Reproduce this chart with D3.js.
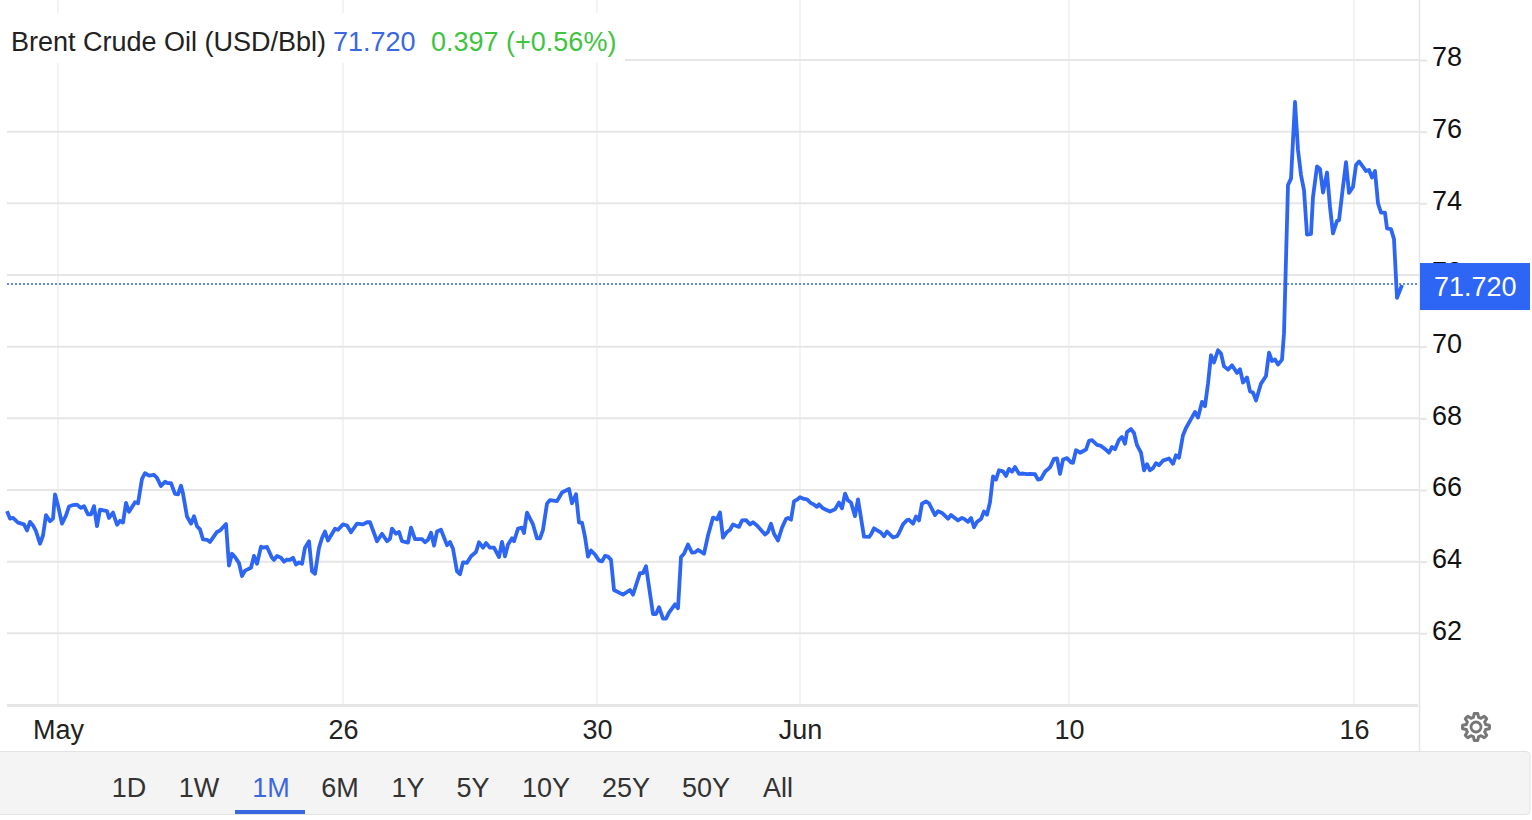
<!DOCTYPE html>
<html>
<head>
<meta charset="utf-8">
<script src="https://cdn.jsdelivr.net/npm/d3@7"></script>
<style>
html, body { margin: 0; padding: 0; background: #fff; overflow: hidden; }
text { font-family: "Liberation Sans", Arial, sans-serif; }
</style>
</head>
<body>
<div id="hook"></div>
<script>
// session hours since the start of the window
var hours = [0,0.75,1.5,2.75,4.25,5,5.75,6.5,7.25,8.25,9,9.75,10.75,11.5,12,12.75,13.75,14.75,15.5,16.5,17.5,18.5,19.25,20.25,21,21.75,22.5,23.25,25,25.5,26.5,27.5,28.25,29,29.75,30.5,32,32.75,33.75,34.5,35.5,36.75,37.5,38.5,39.5,40.25,41,42,42.75,43.5,44,45,46,46.75,47.5,48.25,49,50,50.75,52.5,53.25,54.75,55.5,56.25,57,58,58.75,59.5,61,61.75,62.5,63.5,64,65,66.25,66.75,67.5,68.5,69.25,70,70.75,71.5,72.25,73,73.75,74.5,75.5,76.25,77,78,78.75,79.5,80.25,82,82.75,84,85,
86,87.5,89,90,90.75,92.5,93.75,95,95.75,96.25,97.25,98,98.75,100.25,101,102,103.75,104.5,105.25,106,106.75,107.5,108.5,110,110.75,111.5,112.5,113.25,114,115,116,117.25,118,119,119.75,120.75,121.75,123,123.75,124.5,125.25,126.25,126.75,127.75,128.75,129.25,130,131.5,132.5,133.25,134,135,135.75,137.5,138.75,140.5,141.25,142.25,143,143.75,144.5,145.25,146,147,148,148.75,149.5,150.25,151,151.75,154,155.75,156.5,157.5,158.25,159,159.75,161.5,162.25,163,164,164.75,165.5,167,167.75,168.5,169.25,170.25,
171.25,172,172.75,174.25,175.25,176.5,177.5,178.25,179,180,180.75,181.5,183,183.75,184.75,185.75,186.5,187.5,189.5,190.25,191,191.75,192.75,193.75,194.75,195.25,196,196.75,197.5,198.25,199.25,200,201,201.5,202.5,203,204,204.75,205.75,207,208,208.75,209.5,210.25,211,212,212.75,214.25,215.5,216,216.75,218.5,219.25,220,221.5,222.5,223,224,225,225.5,226.5,227.25,228,228.75,229.75,230.5,232,232.75,233.75,235.25,236,237.75,238.75,239.25,240.25,241,241.75,242.5,243.5,244.25,245,245.75,246.5,247.25,248,249,249.75,250.5,251.25,252,253,254,255,255.75,
257,257.75,258.5,259.5,260.75,261.75,262.5,263.25,264,265,266,266.5,267.25,268.25,269.75,270.5,271.25,272.5,273.5,274.75,275.5,276.25,277,278,278.75,279.5,280,281,281.75,282.5,283.5,284.25,285,285.75,286.5,287.25,288,289,290.5,291.5,292.25,293,294,294.75,295.75,297,297.75,298.75,299.5,300.25,301,301.75,302.75,303.5,304.25,305.25,306.25,307.5,308.25,309,310,310.75,311.5,312.25,313.5,314.75,315.5,316.25,317,317.75,318.75,319.25,
320.25,321,322,322.75,323.5,324.25,325,326,326.5,327.5,328.25,329,330,330.75,331.5,332.5,333,334,334.75,335.5,336.5,337.25,338,339,339.75,340.5,341.25,342,342.75,343.5,344.5,345,346,346.75,347.5,348.75];

// Brent price, USD/Bbl
var prices = [65.41,65.2,65.22,65.09,65.04,64.87,65.11,65.01,64.85,64.5,64.73,65.3,65.13,65.2,65.88,65.57,65.06,65.29,65.54,65.58,65.59,65.5,65.55,65.32,65.32,65.55,64.99,65.45,65.41,65.22,65.37,65.03,65.14,65.09,65.64,65.39,65.66,65.63,66.31,66.47,66.4,66.42,66.34,66.11,66.23,66.19,66.19,65.89,65.88,66.12,65.9,65.26,65.06,65.27,64.99,64.9,64.62,64.61,64.55,64.83,64.87,65.05,63.89,64.22,64.13,63.96,63.6,63.75,63.83,64.16,63.94,64.42,64.39,64.41,64.11,64.05,64.16,64.11,64,64.06,64.05,64.11,63.92,63.98,63.94,64.39,64.57,63.73,63.66,64.39,64.66,64.84,64.59,64.92,64.89,65.04,65.01,
64.82,65.06,65.04,65.1,65.1,64.57,64.78,64.57,64.64,64.92,64.78,64.83,64.57,64.53,64.95,64.63,64.63,64.54,64.61,64.81,64.45,64.84,64.89,64.46,64.55,64.36,63.73,63.65,63.98,63.97,64.15,64.27,64.54,64.39,64.52,64.39,64.39,64.13,64.55,64.15,64.48,64.65,64.57,64.92,64.95,64.8,65.37,65.04,64.65,64.65,64.89,65.62,65.72,65.69,65.93,66.03,65.63,65.88,65.09,65.09,64.69,64.14,64.31,64.2,64.03,64.01,64.16,64.14,64.05,63.21,63.08,63.21,63.08,63.43,63.68,63.68,63.87,62.54,62.54,62.73,62.41,62.41,62.58,62.81,62.7,64.13,64.22,64.48,
64.25,64.26,64.33,64.22,64.73,65.23,65.18,65.37,64.67,64.83,64.89,65.04,64.97,65.15,65.16,65.04,65.1,65.01,64.76,64.83,65.06,64.78,64.59,64.95,65.19,65.22,65.17,65.68,65.73,65.8,65.75,65.74,65.63,65.61,65.53,65.6,65.49,65.45,65.4,65.46,65.65,65.49,65.9,65.71,65.65,65.27,65.74,64.7,64.69,64.76,64.93,64.81,64.71,64.84,64.68,64.71,64.8,65.04,65.16,65.17,65.06,65.26,65.15,65.62,65.68,65.63,65.3,65.41,65.36,65.2,65.3,65.15,65.22,65.2,65.11,65.22,64.96,65.11,65.19,65.4,65.31,65.66,66.38,66.29,66.55,66.52,66.39,66.59,66.51,66.64,66.45,66.46,66.44,66.45,
66.44,66.29,66.31,66.51,66.63,66.87,66.88,66.45,66.85,66.89,66.77,66.76,67.11,67.04,67.13,67.37,67.39,67.26,67.23,67.12,67.04,67.2,67.14,67.4,67.48,67.29,67.62,67.7,67.59,67.25,67.04,66.55,66.72,66.55,66.61,66.75,66.69,66.82,66.88,66.73,66.97,66.9,67.53,67.73,67.93,68.18,68.02,68.46,68.34,68.97,69.76,69.56,69.9,69.81,69.45,69.36,69.48,69.27,69.37,69,69.14,68.75,68.72,68.5,68.97,69.18,69.83,69.6,69.64,69.5,69.64,70.37,
74.51,74.69,76.83,75.49,74.79,74.37,73.13,73.15,74.18,75.03,74.96,74.3,74.86,73.9,73.16,73.51,73.53,74.46,75.15,74.29,74.46,75.07,75.17,75.02,74.9,74.93,74.72,74.9,74,73.74,73.74,73.3,73.28,73,71.36,71.72];

var yTicks = [62, 64, 66, 68, 70, 72, 74, 76, 78];
var xTickHours = [12.75, 84, 147.5, 198.25, 265.5, 336.75];
var xTickLabels = ["May", "26", "30", "Jun", "10", "16"];
var ranges = ["1D", "1W", "1M", "6M", "1Y", "5Y", "10Y", "25Y", "50Y", "All"];
var activeRange = "1M";
var lastPrice = 71.72;

var w = 1532;
var h = 820;
var left = 7;
var right = 1419;
var bottom = 705;
var blue = "#2d65f5";

var svg = d3.select("#hook")
    .append("svg")
    .attr("width", w)
    .attr("height", h)
    .style("display", "block");

var x = d3.scaleLinear().domain([0, 348.75]).range([7, 1402]);
var y = d3.scaleLinear().domain([60, 78]).range([bottom, 60]);

// vertical grid
svg.append("g")
    .selectAll("line")
    .data(xTickHours)
    .enter()
    .append("line")
    .attr("x1", function (d) { return x(d); })
    .attr("x2", function (d) { return x(d); })
    .attr("y1", 0)
    .attr("y2", bottom)
    .style("stroke", "#f2f3f6")
    .style("stroke-width", 2);

// horizontal grid
svg.append("g")
    .selectAll("line")
    .data(yTicks)
    .enter()
    .append("line")
    .attr("x1", left)
    .attr("x2", right)
    .attr("y1", function (d) { return y(d); })
    .attr("y2", function (d) { return y(d); })
    .style("stroke", "#e6e6e6")
    .style("stroke-width", 2);

svg.append("line")
    .attr("x1", left).attr("x2", right - 1)
    .attr("y1", bottom + 0.5).attr("y2", bottom + 0.5)
    .style("stroke", "#e6e6e6")
    .style("stroke-width", 3);

svg.append("line")
    .attr("x1", right + 0.5).attr("x2", right + 0.5)
    .attr("y1", 0).attr("y2", 751)
    .style("stroke", "#e6e6e6")
    .style("stroke-width", 1.5);

// y axis
var yAxis = svg.append("g")
    .attr("transform", "translate(" + right + ",0)")
    .call(d3.axisRight(y).tickValues(yTicks).tickSize(8).tickPadding(5));
yAxis.select(".domain").remove();
yAxis.selectAll("line").style("stroke", "#e6e6e6").style("stroke-width", 2);
yAxis.selectAll("text")
    .attr("dy", "0.22em")
    .style("font-size", "27px")
    .style("fill", "#111");

// x axis
var xAxis = svg.append("g")
    .attr("transform", "translate(0," + bottom + ")")
    .call(d3.axisBottom(x)
        .tickValues(xTickHours)
        .tickSize(0)
        .tickPadding(15)
        .tickFormat(function (d, i) { return xTickLabels[i]; }));
xAxis.select(".domain").remove();
xAxis.selectAll("text")
    .attr("dy", "0.71em")
    .style("font-size", "27px")
    .style("fill", "#222");

// header box sits over the grid
svg.append("rect")
    .attr("x", left)
    .attr("y", 13)
    .attr("width", 618)
    .attr("height", 50)
    .style("fill", "#fff");

var header = svg.append("text")
    .attr("x", 11)
    .attr("y", 51)
    .style("font-size", "27px");
header.append("tspan").text("Brent Crude Oil (USD/Bbl)").style("fill", "#222");
header.append("tspan").attr("x", 333).text("71.720").style("fill", "#3a68e0");
header.append("tspan").attr("x", 431).text("0.397 (+0.56%)").style("fill", "#3fc43f");

// last price line
svg.append("line")
    .attr("x1", left)
    .attr("x2", right)
    .attr("y1", y(lastPrice) - 1)
    .attr("y2", y(lastPrice) - 1)
    .style("stroke", blue)
    .style("stroke-width", 1.6)
    .style("stroke-dasharray", "2 2");

// price line
var line = d3.line()
    .x(function (d) { return x(d); })
    .y(function (d, i) { return y(prices[i]); });

svg.append("path")
    .attr("d", line(hours))
    .style("fill", "none")
    .style("stroke", blue)
    .style("stroke-width", 3.8)
    .style("stroke-linejoin", "round");

// last price tag
svg.append("rect")
    .attr("x", right + 1)
    .attr("y", y(lastPrice) - 22)
    .attr("width", 110)
    .attr("height", 47)
    .style("fill", blue);

svg.append("text")
    .attr("x", right + 15)
    .attr("y", y(lastPrice) + 11)
    .text(d3.format(".3f")(lastPrice))
    .style("font-size", "27px")
    .style("fill", "#fff");

// range bar
svg.append("rect")
    .attr("x", -5)
    .attr("y", 751.5)
    .attr("width", 1535)
    .attr("height", 63)
    .attr("rx", 4)
    .style("fill", "#f4f4f4")
    .style("stroke", "#e2e2e2")
    .style("stroke-width", 1);

var rangeX = d3.scaleOrdinal()
    .domain(ranges)
    .range([129, 199, 271, 340, 408, 473, 546, 626, 706, 778]);

svg.append("g")
    .selectAll("text")
    .data(ranges)
    .enter()
    .append("text")
    .text(function (d) { return d; })
    .attr("text-anchor", "middle")
    .attr("x", function (d) { return rangeX(d); })
    .attr("y", 797)
    .style("font-size", "27px")
    .style("fill", function (d) { return d === activeRange ? "#3a68e0" : "#333"; });

svg.append("rect")
    .attr("x", rangeX(activeRange) - 36)
    .attr("y", 810)
    .attr("width", 70)
    .attr("height", 4)
    .style("fill", "#3a68e0");

// settings gear, outline only
var gearOutline = d3.range(48).map(function (i) {
    var phase = i % 6;
    return [i * Math.PI / 24, (phase === 0 || phase === 1 || phase === 5) ? 13.5 : 10];
});
var gear = svg.append("g")
    .attr("transform", "translate(1476,727)")
    .style("fill", "none")
    .style("stroke", "#777");
gear.append("path")
    .attr("d", d3.lineRadial().curve(d3.curveLinearClosed)(gearOutline))
    .style("stroke-width", 3)
    .style("stroke-linejoin", "round");
gear.append("circle").attr("r", 5).style("stroke-width", 2.8);
</script>
</body>
</html>
